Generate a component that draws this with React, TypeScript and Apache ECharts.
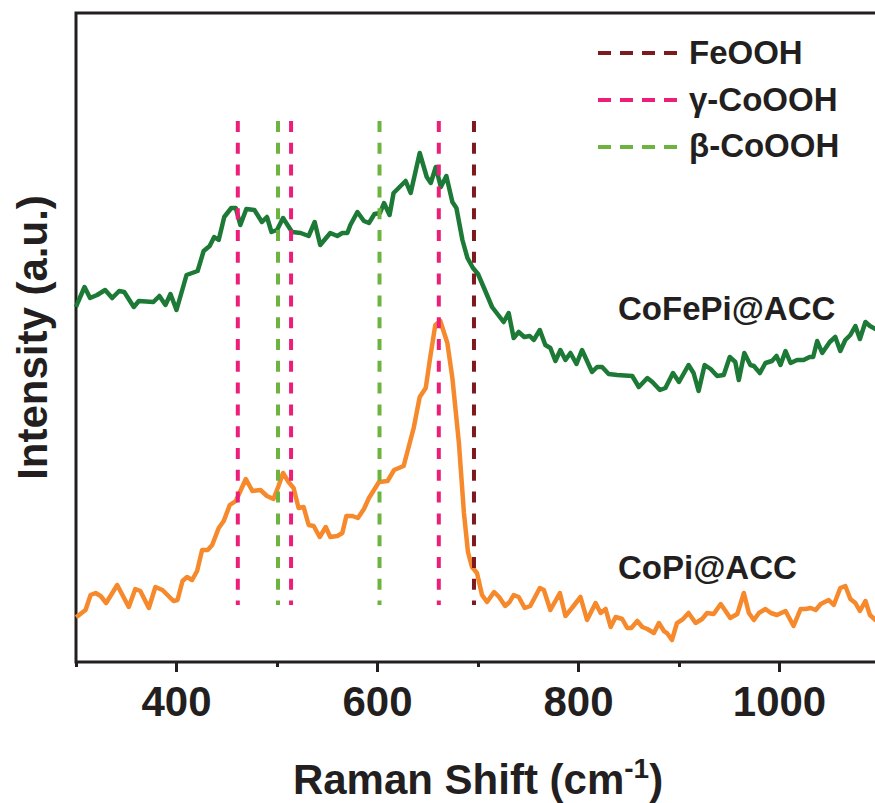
import React, { useEffect, useRef } from "react";
import * as echarts from "echarts";

// Raman shift (cm-1) and intensity (a.u.) for CoFePi@ACC
const cofepiShift = [
  300, 302, 308.5, 314, 321, 329, 336, 343, 348, 357.5, 362.5, 377, 383, 389, 394, 400, 410, 421, 427, 433,
  437.5, 442, 447.5, 454.5, 459, 463.5, 469.5, 477.5, 485, 490, 494.5, 500, 506, 515, 523.5, 531.5, 537.5, 543,
  553, 560, 565, 570, 573, 580, 586.5, 591.5, 597, 602.5, 606.5, 612, 616, 628, 633, 642, 649, 653, 658, 663,
  668.5, 674.5, 678.5, 684.5, 689.5, 695, 700, 706, 714, 725.5, 730.5, 735.5, 740.5, 746, 751.5, 755.5, 761.5,
  767, 772, 777, 782, 787, 792, 798, 803.5, 813.5, 818.5, 823.5, 830, 838.5, 853.5, 860, 868.5, 873.5, 881,
  886.5, 894, 900, 909.5, 914.5, 919.5, 925.5, 931.5, 938, 944.5, 950.5, 956, 959.5, 965, 971, 974.5, 980.5,
  986, 992.5, 997, 1001, 1006, 1011, 1017.5, 1024, 1030, 1033.5, 1037.5, 1042.5, 1050, 1055.5, 1060.5, 1065.5,
  1070.5, 1075.5, 1080, 1085.5, 1090, 1095.5, 1100,
];
const cofepiIntensity = [
  355, 360, 375, 364, 367, 372, 364, 371, 370, 355, 361, 360, 366, 357, 368, 352, 387, 391, 411, 416,
  425, 422, 445, 454, 454, 437, 453, 452, 440, 445, 430, 432, 444, 430, 429, 426, 440, 417,
  429, 426, 429, 429, 437, 450, 441, 439, 448, 449, 459, 447, 469, 481, 469, 509, 485, 479, 495, 475,
  486, 460, 454, 422, 404, 394, 388, 374, 355, 340, 349, 324, 330, 325, 326, 322, 332,
  317, 314, 301, 312, 302, 309, 298, 312, 290, 295, 295, 288, 287, 286, 275, 284, 280, 272,
  274, 289, 280, 297, 289, 271, 297, 293, 286, 287, 305, 300, 282, 309, 297, 296, 289,
  299, 301, 306, 297, 311, 299, 302, 302, 305, 305, 321, 309, 320, 325, 311, 322,
  327, 336, 323, 340, 336, 333, 330,
];

// Raman shift (cm-1) and intensity (a.u.) for CoPi@ACC
const copiShift = [
  300, 303, 309.5, 314.5, 319.5, 324.5, 330, 341, 352.5, 359, 364, 372.5, 379, 386, 391, 397, 401, 406, 410.5,
  415.5, 420.5, 425.5, 431, 435.5, 442, 447, 453, 459, 469, 475.5, 483.5, 490, 496.5, 501.5, 506, 511.5, 516.5,
  521.5, 526.5, 531.5, 536.5, 542.5, 548.5, 553, 560, 565, 569, 575, 580.5, 586.5, 591.5, 601.5, 610, 616.5,
  626, 631, 636, 642, 648, 652.5, 657.5, 662.5, 669.5, 674.5, 681, 686, 690, 694, 699, 704, 709, 716, 721, 727,
  731.5, 735.5, 740.5, 746.5, 752, 761.5, 765.5, 772, 781.5, 787, 793.5, 802, 808.5, 817, 822, 827, 832, 837,
  843.5, 848.5, 852.5, 858.5, 863.5, 868.5, 875, 880, 885, 888, 893, 898, 904, 909.5, 916.5, 923, 928, 934.5,
  941.5, 947, 951, 958, 964.5, 969.5, 974.5, 979.5, 986, 991.5, 997.5, 1006, 1014, 1021, 1026, 1031, 1036,
  1041, 1049, 1054, 1060.5, 1065.5, 1070.5, 1075.5, 1080, 1085.5, 1090, 1095.5, 1100,
];
const copiIntensity = [
  45, 47, 52, 67, 69, 66, 59, 77, 55, 73, 71, 54, 75, 72, 67, 61, 62, 81, 85,
  82, 91, 112, 112, 117, 134, 141, 157, 161, 183, 171, 172, 166, 163, 176, 189, 180, 174,
  154, 155, 137, 136, 125, 135, 125, 126, 129, 146, 146, 144, 153, 164, 180, 181, 192,
  196, 215, 234, 265, 274, 305, 337, 341, 319, 284, 219, 149, 110, 95, 89, 67, 60, 70, 65, 56,
  60, 67, 65, 54, 56, 74, 72, 52, 69, 46, 54, 65, 42, 59, 49, 53, 35, 45,
  43, 34, 34, 41, 35, 33, 29, 39, 31, 29, 22, 39, 43, 49, 39, 43, 49, 48,
  58, 50, 44, 48, 69, 49, 42, 49, 53, 49, 47, 51, 36, 53, 53, 54, 52,
  58, 62, 57, 74, 76, 63, 59, 51, 61, 47, 42, 40,
];

// Reference band positions (cm-1)
const feoohBands = [696];
const gammaCoOOHBands = [461, 514, 661];
const betaCoOOHBands = [501, 602];
const bandTop = 541;
const bandBottom = 57;

const majorTicks = [400, 600, 800, 1000];

const legendNames = ["FeOOH", "γ-CoOOH", "β-CoOOH"];
const curveNames = ["CoFePi@ACC", "CoPi@ACC"];

const INK = "#231f20";
const FONT = "'Liberation Sans', Arial, Helvetica, sans-serif";
const C_FEOOH = "#7d1a1f";
const C_GAMMA = "#ec1e79";
const C_BETA = "#6cb43f";
const C_COFEPI = "#1d7a36";
const C_COPI = "#f6892c";

const zip = (xs: number[], ys: number[]) => xs.map((x, i) => [x, ys[i]]);

function bandSeries(name: string, positions: number[], color: string) {
  return positions.map((x) => ({
    name,
    type: "line",
    data: [
      [x, bandTop],
      [x, bandBottom],
    ],
    showSymbol: false,
    symbol: "none",
    silent: true,
    z: 3,
    lineStyle: { color, width: 4, type: [11, 10.8] },
  }));
}

export default function App() {
  const ref = useRef<HTMLDivElement>(null);

  useEffect(() => {
    if (!ref.current) return;
    const chart = echarts.init(ref.current, undefined, { renderer: "svg" });

    const legendColors = [C_FEOOH, C_GAMMA, C_BETA];
    const legendLineY = [53, 100, 147];
    const legendTextY = [52.5, 99, 145.8];
    const legendGraphics: any[] = [];
    legendNames.forEach((n, i) => {
      legendGraphics.push({
        type: "line",
        shape: { x1: 598, y1: legendLineY[i], x2: 677, y2: legendLineY[i] },
        style: { stroke: legendColors[i], lineWidth: 4, lineDash: [13, 9] },
      });
      legendGraphics.push({
        type: "text",
        x: 689,
        y: legendTextY[i],
        style: {
          text: n,
          fill: INK,
          font: `bold 33px ${FONT}`,
          textAlign: "left",
          textVerticalAlign: "middle",
        },
      });
    });

    chart.setOption({
      animation: false,
      backgroundColor: "#ffffff",
      // the frame runs slightly past the right edge of the page
      grid: {
        left: 76,
        width: 804,
        top: 13,
        bottom: 141,
        outerBoundsMode: "none",
        containLabel: false,
        show: true,
        borderColor: INK,
        borderWidth: 3,
        backgroundColor: "transparent",
      },
      xAxis: [
        {
          type: "value",
          min: 300,
          max: 1100,
          name: "{a|Raman Shift (cm}{b|-1}{a|)}",
          nameLocation: "middle",
          nameGap: 92,
          nameTextStyle: {
            rich: {
              a: { fontSize: 42, fontWeight: "bold", fontFamily: FONT, color: INK, lineHeight: 50 },
              b: { fontSize: 28, fontWeight: "bold", fontFamily: FONT, color: INK, lineHeight: 28, verticalAlign: "top" },
            },
          },
          axisLine: { show: false },
          splitLine: { show: false },
          axisTick: { show: true, length: 10, customValues: majorTicks, lineStyle: { color: INK, width: 3 } },
          axisLabel: {
            customValues: majorTicks,
            formatter: (v: number) => String(v),
            margin: 18,
            fontSize: 42,
            fontWeight: "bold",
            fontFamily: FONT,
            color: INK,
          },
        },
        {
          // minor ticks at 300, 500, 700, 900, 1100
          type: "value",
          min: 300,
          max: 1100,
          interval: 200,
          position: "bottom",
          axisLine: { show: false },
          splitLine: { show: false },
          axisLabel: { show: false },
          axisTick: { show: true, length: 5, lineStyle: { color: INK, width: 3 } },
        },
      ],
      yAxis: {
        type: "value",
        min: 0,
        max: 649,
        name: "Intensity (a.u.)",
        nameLocation: "middle",
        nameGap: 23,
        nameTextStyle: { fontSize: 42, fontWeight: "bold", fontFamily: FONT, color: INK },
        axisLine: { show: false },
        axisTick: { show: false },
        axisLabel: { show: false },
        splitLine: { show: false },
      },
      series: [
        {
          name: curveNames[0],
          type: "line",
          data: zip(cofepiShift, cofepiIntensity),
          showSymbol: false,
          symbol: "none",
          z: 2,
          lineStyle: { color: C_COFEPI, width: 4.5, join: "round" },
        },
        {
          name: curveNames[1],
          type: "line",
          data: zip(copiShift, copiIntensity),
          showSymbol: false,
          symbol: "none",
          z: 2,
          lineStyle: { color: C_COPI, width: 4.5, join: "round" },
        },
        ...bandSeries(legendNames[0], feoohBands, C_FEOOH),
        ...bandSeries(legendNames[1], gammaCoOOHBands, C_GAMMA),
        ...bandSeries(legendNames[2], betaCoOOHBands, C_BETA),
      ],
      graphic: [
        ...legendGraphics,
        {
          type: "text",
          x: 618,
          y: 308.5,
          style: {
            text: curveNames[0],
            fill: INK,
            font: `bold 33px ${FONT}`,
            textAlign: "left",
            textVerticalAlign: "middle",
          },
        },
        {
          type: "text",
          x: 618,
          y: 567,
          style: {
            text: curveNames[1],
            fill: INK,
            font: `bold 33px ${FONT}`,
            textAlign: "left",
            textVerticalAlign: "middle",
          },
        },
      ],
    });

    return () => chart.dispose();
  }, []);

  return (
    <div
      ref={ref}
      style={{ position: "fixed", left: 0, top: 0, width: 875, height: 803, background: "#fff" }}
    />
  );
}
